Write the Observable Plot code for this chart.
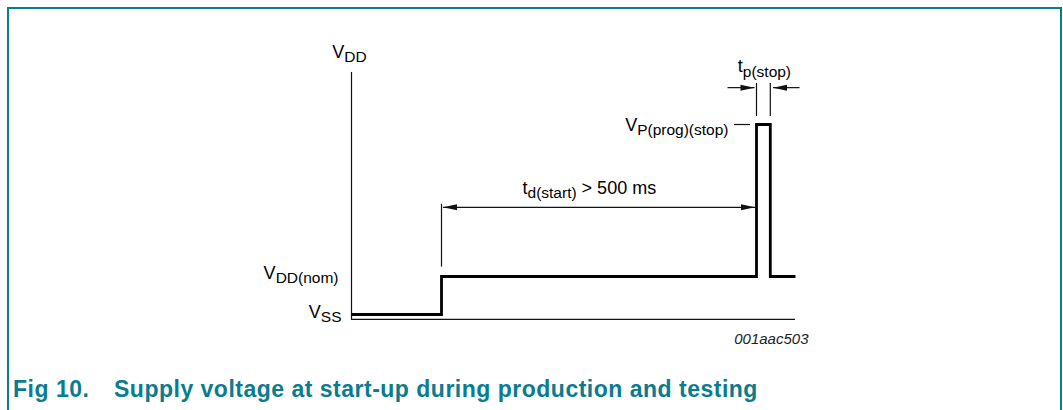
<!DOCTYPE html>
<html>
<head>
<meta charset="utf-8">
<script src="https://cdn.jsdelivr.net/npm/d3@7"></script>
<script src="https://cdn.jsdelivr.net/npm/@observablehq/plot@0.6"></script>
<style>
  html, body { margin: 0; padding: 0; background: #fff; }
  #wrap { position: relative; width: 1063px; height: 410px; overflow: hidden; font-family: "Liberation Sans", Arial, sans-serif; }
  #frame { position: absolute; left: 7px; top: 7px; width: 1055px; height: 430px; border: 2px solid #0b7b8f; border-bottom: none; box-sizing: border-box; }
  #chart { position: absolute; left: 0; top: 0; }
  #caption { position: absolute; left: 13px; top: 378px; font-weight: bold; font-size: 23px; line-height: 23px; letter-spacing: 0.5px; color: #0b7b8f; white-space: pre; }
  #caption .num { display: inline-block; width: 101px; }
</style>
</head>
<body>
<div id="wrap">
  <div id="frame"></div>
  <div id="chart"></div>
  <div id="caption"></div>
</div>
<script>
// ---- data ----
const levelNames = ["VSS", "VDD(nom)", "VP(prog)(stop)"];
const levelValues = [0, 1, 5];               // relative supply levels
const eventNames = ["origin", "power-on", "pulse start", "pulse end", "end"];
const eventTimes = [0, 150, 675, 698, 740];  // arbitrary time units
const traceTimes = [0, 150, 150, 675, 675, 698, 698, 740];
const traceLevels = [0, 0, 1, 1, 5, 5, 1, 1];
const labelTexts = ["V|DD", "V|DD(nom)", "V|SS", "V|P(prog)(stop)", "t|p(stop)", "t|d(start)| > 500 ms"];
const figureId = "001aac503";
const captionNumber = "Fig 10.";
const captionText = "Supply voltage at start-up during production and testing";

// ---- layout (positions in scale units) ----
const [VSS, VDDNOM, VP] = levelValues;
const [T0, TON, TPS, TPE, TEND] = eventTimes;
const axisTop = 6.37, axisFloor = -0.13;
const tdY = 2.82, tpY = 5.97, gap = 2.5;

const ink = "#111";
const thin = 1.2;

const arrowHead = {
  draw(ctx) { ctx.moveTo(0, 0); ctx.lineTo(-14, -3); ctx.lineTo(-14, 3); ctx.closePath(); }
};

const trace = traceTimes.map((t, i) => ({t, v: traceLevels[i]}));

const shafts = [
  {x1: TON + gap, x2: TPS - gap, y: tdY},
  {x1: TPS - 48.3, x2: TPS - gap - 0.8, y: tpY},
  {x1: TPE + 48.7, x2: TPE + gap + 2, y: tpY}
];
const heads = [
  {x: TON + gap, y: tdY, rot: 180},
  {x: TPS - gap, y: tdY, rot: 0},
  {x: TPS - gap - 0.8, y: tpY, rot: 0},
  {x: TPE + gap + 2, y: tpY, rot: 180}
];

const labels = [
  {text: labelTexts[0], x: T0, y: 6.76, dx: -2, dy: 0, anchor: "middle"},
  {text: labelTexts[1], x: T0, y: VDDNOM, dx: -13, dy: 2, anchor: "end"},
  {text: labelTexts[2], x: T0, y: VSS, dx: -10, dy: 3, anchor: "end"},
  {text: labelTexts[3], x: TPS, y: VP, dx: -28, dy: 6, anchor: "end"},
  {text: labelTexts[4], x: (TPS + TPE) / 2, y: 6.38, dx: 1, dy: 0, anchor: "middle"},
  {text: labelTexts[5], x: 285, y: 3.18, dx: 0, dy: 0, anchor: "start"}
];

function labelMark(anchor) {
  const d = labels.filter(l => l.anchor === anchor);
  return d.map(l => Plot.text([l], {
    x: "x", y: "y", text: "text", dx: l.dx, dy: l.dy,
    textAnchor: anchor, lineAnchor: "bottom", fontSize: 18, fill: "#000"
  }));
}

const svg = Plot.plot({
  width: 1063,
  height: 360,
  margin: 0,
  x: {domain: [T0, TEND], range: [351, 795], axis: null},
  y: {domain: [VSS, VP], range: [314, 124], axis: null},
  style: {fontFamily: '"Liberation Sans", Arial, sans-serif', background: "transparent", overflow: "visible"},
  marks: [
    // axes
    Plot.ruleX([T0], {y1: axisFloor, y2: axisTop, stroke: ink, strokeWidth: thin}),
    Plot.ruleY([axisFloor], {x1: T0, x2: TEND, stroke: ink, strokeWidth: thin}),
    // marker lines
    Plot.ruleX([TON], {y1: 1.25, y2: 2.9, stroke: ink, strokeWidth: thin}),
    Plot.ruleX([TPS, TPE], {y1: 5.21, y2: 6.08, stroke: ink, strokeWidth: thin}),
    Plot.ruleY([VP], {x1: 638.3, x2: 665, stroke: ink, strokeWidth: thin}),
    // arrows
    Plot.link(shafts, {x1: "x1", x2: "x2", y1: "y", y2: "y", stroke: ink, strokeWidth: thin}),
    Plot.dot(heads, {x: "x", y: "y", rotate: "rot", symbol: arrowHead, fill: ink, r: 5}),
    // supply trace
    Plot.line(trace, {x: "t", y: "v", stroke: "#000", strokeWidth: 2.8, strokeLinejoin: "miter", strokeLinecap: "butt", strokeMiterlimit: 10}),
    // labels
    ...labelMark("start"), ...labelMark("middle"), ...labelMark("end"),
    Plot.text([figureId], {x: TEND, y: VSS, dx: 13, dy: 29, text: d => d, textAnchor: "end", lineAnchor: "bottom", fontSize: 15, fontStyle: "italic", fill: "#222"})
  ]
});

// subscripts: "main|sub|rest"
d3.select(svg).selectAll("text")
  .filter(function() { return this.textContent.includes("|"); })
  .each(function() {
    const parts = this.textContent.split("|");
    const t = d3.select(this);
    t.text(null);
    t.append("tspan").text(parts[0]);
    if (parts[1] != null) t.append("tspan").attr("dy", 4.5).attr("font-size", 15.5).text(parts[1]);
    if (parts[2] != null) t.append("tspan").attr("dy", -4.5).attr("font-size", 18).text(parts[2]);
  });

document.getElementById("chart").append(svg);
const cap = document.getElementById("caption");
const num = document.createElement("span");
num.className = "num";
num.textContent = captionNumber;
cap.append(num, captionText);
</script>
</body>
</html>
